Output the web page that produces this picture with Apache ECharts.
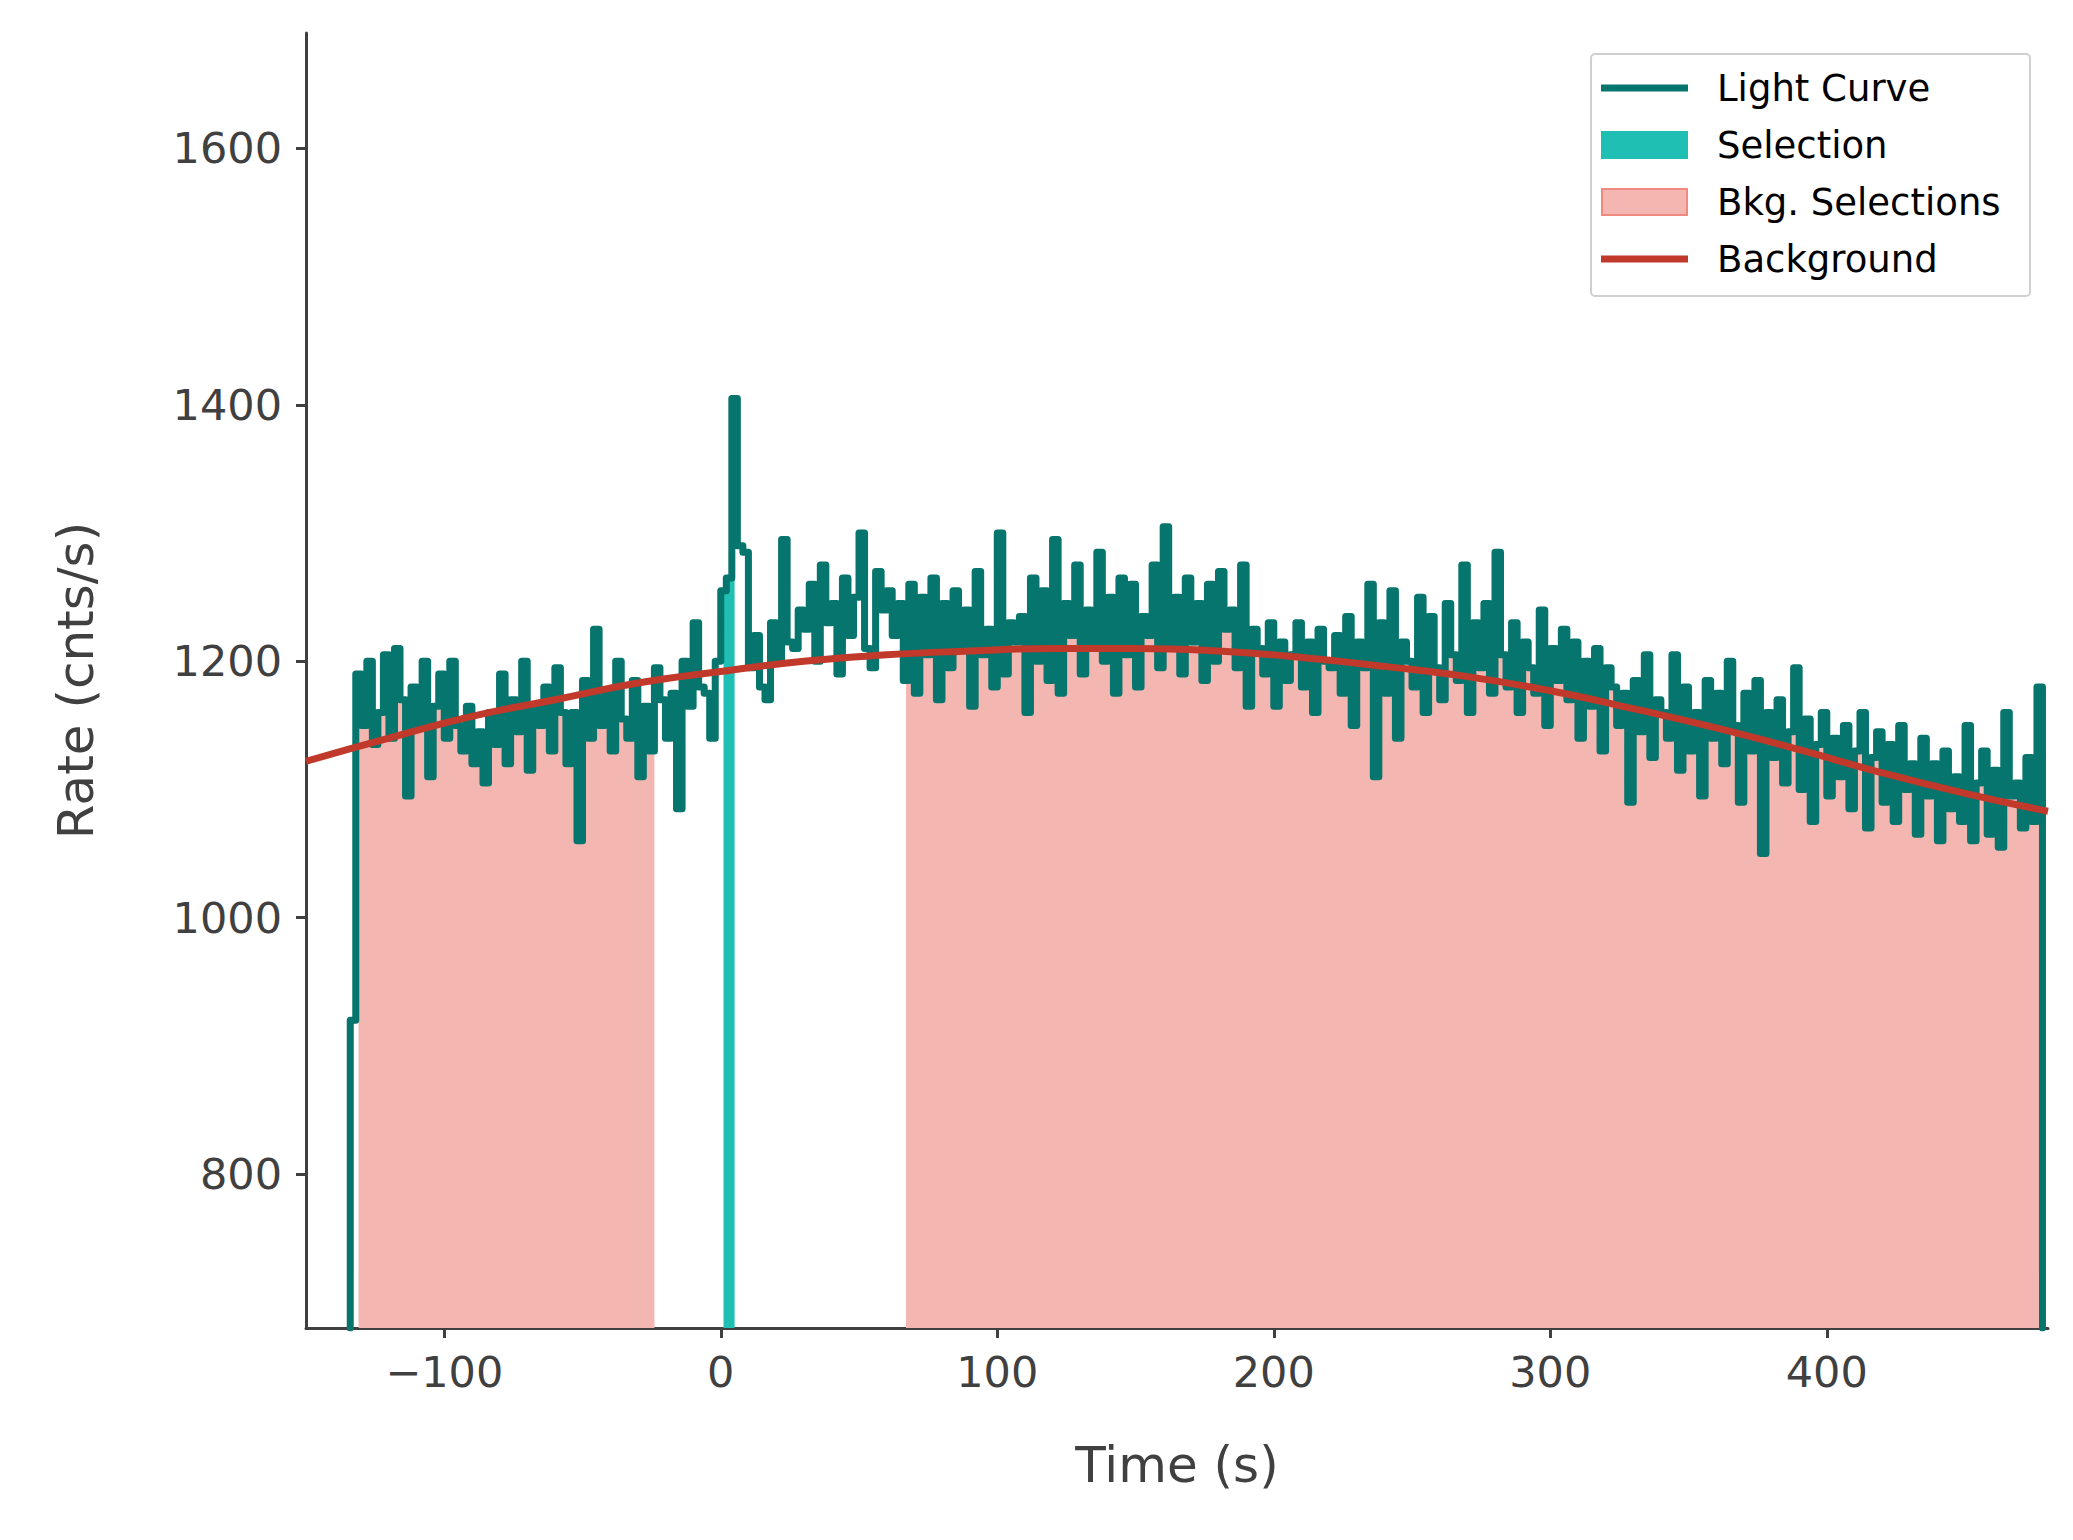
<!DOCTYPE html>
<html>
<head>
<meta charset="utf-8">
<script src="https://cdn.jsdelivr.net/npm/echarts@6/dist/echarts.min.js"></script>
<style>html,body{margin:0;padding:0;background:#fff}#chart{width:2073px;height:1540px}</style>
</head>
<body>
<div id="chart"></div>
<script>
// light curve, 2 s bins, left edges start at t0
const t0 = -134;
const binWidth = 2;
const rates = [
  920,1190,1150,1200,1135,1160,1205,1140,1210,1170,
  1095,1180,1150,1200,1110,1165,1190,1140,1200,1150,
  1130,1165,1120,1145,1105,1160,1135,1190,1120,1170,
  1145,1200,1115,1165,1150,1180,1130,1195,1160,1120,
  1160,1060,1185,1140,1225,1150,1175,1130,1200,1155,
  1140,1185,1110,1165,1130,1195,1170,1140,1175,1085,
  1200,1165,1230,1180,1175,1140,1200,1255,1265,1405,
  1290,1285,1195,1220,1180,1170,1230,1200,1295,1215,
  1210,1240,1225,1260,1200,1275,1230,1245,1190,1265,
  1220,1250,1300,1210,1195,1270,1240,1255,1220,1245,
  1185,1260,1175,1250,1205,1265,1170,1245,1195,1255,
  1210,1240,1165,1270,1205,1225,1180,1300,1190,1230,
  1215,1235,1160,1265,1200,1255,1185,1295,1175,1245,
  1220,1275,1190,1240,1210,1285,1200,1250,1175,1265,
  1205,1260,1180,1235,1220,1275,1195,1305,1210,1250,
  1190,1265,1215,1245,1185,1260,1200,1270,1225,1240,
  1195,1275,1165,1225,1210,1190,1230,1165,1215,1185,
  1205,1230,1180,1215,1160,1225,1200,1195,1220,1175,
  1235,1150,1215,1195,1260,1110,1230,1175,1255,1140,
  1215,1200,1180,1250,1160,1235,1195,1170,1245,1205,
  1185,1275,1160,1230,1195,1245,1175,1285,1205,1180,
  1230,1160,1215,1195,1175,1240,1150,1210,1185,1225,
  1170,1215,1140,1200,1165,1210,1130,1195,1180,1150,
  1175,1090,1185,1145,1205,1125,1170,1160,1140,1205,
  1115,1180,1130,1160,1095,1185,1140,1175,1120,1200,
  1150,1090,1175,1130,1185,1050,1160,1125,1170,1105,
  1145,1195,1100,1155,1075,1135,1160,1095,1140,1110,
  1150,1085,1130,1160,1070,1125,1145,1090,1135,1075,
  1150,1100,1120,1065,1140,1095,1120,1060,1130,1085,
  1110,1075,1150,1060,1105,1130,1065,1115,1055,1160,
  1095,1105,1070,1125,1075,1180,720
];
const selRange = [1, 5];
const bkgRanges = [[-131, -24], [67, 478]];
// background model
const bkgTimes = [-150,-120,-90,-60,-30,0,30,60,90,120,150,180,210,240,270,300,330,360,390,420,450,480];
const bkgRates = [1122,1140,1157,1170,1183,1192,1200,1205,1208,1210,1210,1208,1203,1196,1188,1177,1163,1148,1131,1113,1097,1083];
const xTicks = [-100,0,100,200,300,400];
const yTicks = [800,1000,1200,1400,1600];

// explicit steps: each bin gives a horizontal run, joined by verticals
const lc = [[t0, 680]];
rates.forEach((r, i) => {
  const a = t0 + i * binWidth;
  const b = i === rates.length - 1 ? a : a + binWidth;
  lc.push([a, r], [b, r]);
});
lc.push([lc[lc.length - 1][0], 680]);

function rateAt(t) {
  let idx = Math.floor((t - t0) / binWidth);
  idx = Math.max(0, Math.min(rates.length - 1, idx));
  return rates[idx];
}
function clip(a, b) {
  const pts = [[a, rateAt(a)]];
  rates.forEach((r, i) => {
    const t = t0 + i * binWidth;
    if (t > a && t < b) pts.push([t, r]);
  });
  pts.push([b, rateAt(b - 0.01)]);
  return pts;
}

const chart = echarts.init(document.getElementById('chart'), null, { renderer: 'svg' });
const axisCol = '#404040';
const series = [];
bkgRanges.forEach(r => series.push({
  type: 'line', step: 'end', data: clip(r[0], r[1]), symbol: 'none',
  lineStyle: { width: 1.5, color: '#f08a80' },
  areaStyle: { color: '#f4b6b0', origin: 'start', opacity: 1 }, z: 1, silent: true
}));
series.push({
  type: 'line', step: 'end', data: clip(selRange[0], selRange[1]), symbol: 'none',
  lineStyle: { width: 0 }, areaStyle: { color: '#1fbfb4', origin: 'start', opacity: 1 }, z: 2
});
series.push({
  type: 'line', data: lc, symbol: 'none',
  lineStyle: { width: 7, color: '#06756d', cap: 'round', join: 'round' }, z: 3
});
series.push({
  type: 'line', smooth: true, data: bkgTimes.map((t, i) => [t, bkgRates[i]]), symbol: 'none',
  lineStyle: { width: 7, color: '#c0392b' }, z: 4
});

const lx = 1591, ly = 54;
const legendItems = [
  { name: 'Light Curve', kind: 'line', color: '#06756d' },
  { name: 'Selection', kind: 'rect', color: '#1fbfb4', stroke: '#1fbfb4' },
  { name: 'Bkg. Selections', kind: 'rect', color: '#f4b6b0', stroke: '#f08a80' },
  { name: 'Background', kind: 'line', color: '#c0392b' }
];
const graphics = [{
  type: 'rect', shape: { x: lx, y: ly, width: 439, height: 242, r: 4 },
  style: { fill: '#fff', stroke: '#d0d0d0', lineWidth: 2 }, z: 10
}];
legendItems.forEach((it, i) => {
  const cy = 88 + i * 57;
  if (it.kind === 'line') {
    graphics.push({ type: 'line', shape: { x1: 1601, y1: cy, x2: 1688, y2: cy },
      style: { stroke: it.color, lineWidth: 7 }, z: 11 });
  } else {
    graphics.push({ type: 'rect', shape: { x: 1602, y: cy - 13, width: 85, height: 26 },
      style: { fill: it.color, stroke: it.stroke, lineWidth: 2 }, z: 11 });
  }
  graphics.push({ type: 'text', x: 1717, y: cy,
    style: { text: it.name, fontSize: 37, fill: '#000', verticalAlign: 'middle', fontFamily: 'DejaVu Sans' }, z: 11 });
});

chart.setOption({
  animation: false,
  grid: { left: 306, right: 25, top: 33, bottom: 212 },
  xAxis: {
    type: 'value', min: -150, max: 480,
    name: 'Time (s)', nameLocation: 'middle', nameGap: 112,
    nameTextStyle: { fontSize: 50, color: axisCol, fontFamily: 'DejaVu Sans' },
    axisLine: { show: true, onZero: false, lineStyle: { color: axisCol, width: 3 } },
    axisTick: { show: true, length: 10, lineStyle: { color: axisCol, width: 3 }, customValues: xTicks },
    axisLabel: { fontSize: 43, color: axisCol, margin: 22, fontFamily: 'DejaVu Sans', customValues: xTicks,
      formatter: v => String(v).replace('-', '\u2212') },
    splitLine: { show: false }
  },
  yAxis: {
    type: 'value', min: 680, max: 1690,
    name: 'Rate (cnts/s)', nameLocation: 'middle', nameGap: 205, nameRotate: 90,
    nameTextStyle: { fontSize: 50, color: axisCol, fontFamily: 'DejaVu Sans' },
    axisLine: { show: true, onZero: false, lineStyle: { color: axisCol, width: 3 } },
    axisTick: { show: true, length: 10, lineStyle: { color: axisCol, width: 3 }, customValues: yTicks },
    axisLabel: { fontSize: 43, color: axisCol, margin: 24, fontFamily: 'DejaVu Sans', customValues: yTicks,
      formatter: v => String(v) },
    splitLine: { show: false }
  },
  graphic: graphics,
  series: series
});
</script>
</body>
</html>
